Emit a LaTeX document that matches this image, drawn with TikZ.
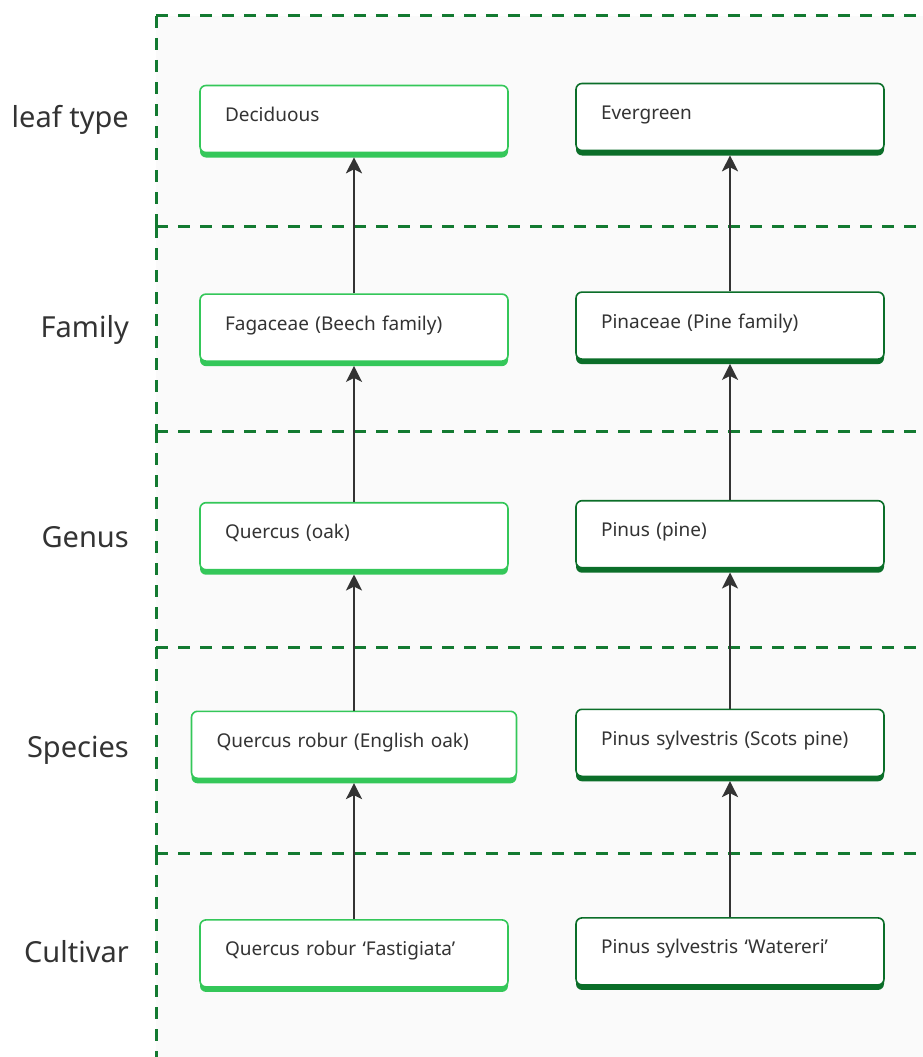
\documentclass[tikz,border=0pt]{standalone}
\usepackage{fontspec}
\setmainfont{Noto Sans}
\usepackage{xcolor}
\usepackage{tikz}
\usetikzlibrary{arrows.meta, positioning, shadows}

\definecolor{leafgreen}{HTML}{34C759}
\definecolor{pinegreen}{HTML}{0B6E29}
\definecolor{lanegreen}{HTML}{137A31}
\definecolor{lanebg}{HTML}{FAFAFA}
\definecolor{inkgray}{HTML}{333333}

\begin{document}
\begin{tikzpicture}[
        x=1pt, y=-1pt,
        taxon/.style={draw, fill=white, rounded corners=6pt, line width=1.6pt,
            inner xsep=25pt, inner ysep=0pt, text width=258pt, align=left,
            text height=36pt, text depth=31pt, text=inkgray,
            font=\fontsize{19}{23}\selectfont},
        decbox/.style={taxon, draw=leafgreen,
            drop shadow={shadow xshift=0pt, shadow yshift=-5pt, fill=leafgreen, opacity=1}},
        evbox/.style={taxon, draw=pinegreen,
            drop shadow={shadow xshift=0pt, shadow yshift=-5pt, fill=pinegreen, opacity=1}},
        rank/.style={anchor=base east, text=inkgray, inner sep=0pt,
            font=\fontsize{29}{34}\selectfont},
        lane/.style={draw=lanegreen, line width=3pt, dash pattern=on 12pt off 10pt},
        arrow/.style={-{Stealth[length=16pt, width=16pt, inset=4pt]}, draw=inkgray,
            line width=2.2pt, shorten >=4pt},
        node distance=140pt
    ]
        \useasboundingbox (0,0) rectangle (923,1057);

        % Lanes
            \fill[lanebg] (156,16) rectangle (923,1057);
            \foreach \ytop/\ybot in {16/226, 226/431, 431/647, 647/853, 853/1057} {
                \draw[lane] (156,\ytop) -- (923,\ytop);
                \draw[lane] (156,\ytop) -- (156,\ybot);
            }

            \node[rank] (rkLeaf) at (129,127) {leaf type};
            \node[rank] (rkFamily) at (129,337) {Family};
            \node[rank] (rkGenus) at (129,547) {Genus};
            \node[rank] (rkSpecies) at (129,757) {Species};
            \node[rank] (rkCultivar) at (129,962) {Cultivar};

        % Nodes
            \node[decbox] (decid) at (354,119) {Deciduous};
            \node[decbox, below=of decid] (fagaceae) {Fagaceae (Beech family)};
            \node[decbox, below=of fagaceae] (quercus) {Quercus (oak)};
            \node[decbox, below=of quercus, text width=275pt] (robur) {Quercus robur (English oak)};
            \node[decbox, below=of robur] (fastig) {Quercus robur ‘Fastigiata’};

            \node[evbox] (evergreen) at (730,117) {Evergreen};
            \node[evbox, below=of evergreen] (pinaceae) {Pinaceae (Pine family)};
            \node[evbox, below=of pinaceae] (pinus) {Pinus (pine)};
            \node[evbox, below=of pinus] (sylv) {Pinus sylvestris (Scots pine)};
            \node[evbox, below=of sylv] (watereri) {Pinus sylvestris ‘Watereri’};

            % Arrows
            \draw[arrow] (fastig) -- (robur);
            \draw[arrow] (robur) -- (quercus);
            \draw[arrow] (quercus) -- (fagaceae);
            \draw[arrow] (fagaceae) -- (decid);
            \draw[arrow] (watereri) -- (sylv);
            \draw[arrow] (sylv) -- (pinus);
            \draw[arrow] (pinus) -- (pinaceae);
            \draw[arrow] (pinaceae) -- (evergreen);
    \end{tikzpicture}
\end{document}
